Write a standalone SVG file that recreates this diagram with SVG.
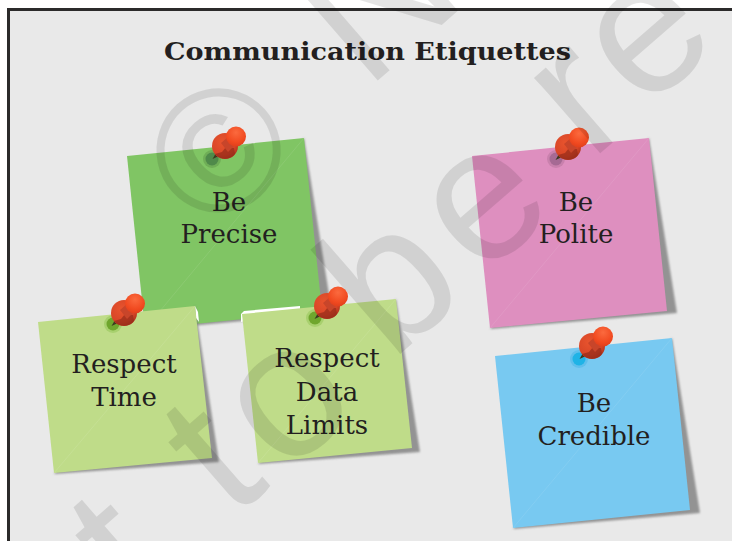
<svg xmlns="http://www.w3.org/2000/svg" xmlns:xlink="http://www.w3.org/1999/xlink" width="732" height="541" viewBox="0 0 732 541">
<style>
.lbl{font-family:"DejaVu Serif","Liberation Serif",serif;font-size:26px;fill:#231f20;text-anchor:middle}
.ttl{font-family:"DejaVu Serif","Liberation Serif",serif;font-size:25px;font-weight:bold;fill:#231f20}
.wm{font-family:"Liberation Sans",sans-serif;font-size:190px;fill:#000;fill-opacity:.1;text-anchor:middle}
.sh{fill:#777;fill-opacity:.75;filter:url(#blur)}
.fold{stroke:#fff;stroke-opacity:.09;stroke-width:1;fill:none}
</style>
<defs>
<filter id="blur" x="-10%" y="-10%" width="120%" height="120%"><feGaussianBlur stdDeviation="1.300"/></filter>
<radialGradient id="big" cx=".4" cy=".35" r=".75"><stop offset="0" stop-color="#e8542e"/><stop offset=".65" stop-color="#d84627"/><stop offset="1" stop-color="#a32e1b"/></radialGradient>
<radialGradient id="small" cx=".5" cy=".3" r=".7"><stop offset="0" stop-color="#fb6a3e"/><stop offset=".7" stop-color="#f14a20"/><stop offset="1" stop-color="#e0401c"/></radialGradient>
<g id="pin">
<path d="M-12.500 13L-9 7L-6 10Z" fill="#3c3a20"/>
<circle r="13" fill="url(#big)"/>
<path d="M-10 8A13 13 0 0 0 10 8L9 2L1 1L-3 6Z" fill="#8f2a18" opacity=".65"/>
<path d="M-4 -3L3 -9L11 -2L3 6Z" fill="#c8452a"/>
<circle cx="11" cy="-9.500" r="10" fill="url(#small)"/>
</g>
</defs>
<rect width="732" height="541" fill="#fff"/>
<rect x="8.500" y="9.500" width="800" height="600" fill="#e9e9e9" stroke="#2b2a2a" stroke-width="3"/>
<g id="connectors"/>
<g id="note-precise">
<path class="sh" d="M304 138L332 313L146 330Z"/>
<polygon points="127,156 304,138 322,311 145,329" fill="#80c564"/>
<path class="fold" d="M145 329L304 138"/>
<circle cx="212" cy="159" r="9" fill="#6fae57"/><circle cx="212" cy="159" r="6.500" fill="#4f8a4a"/>
<use xlink:href="#pin" href="#pin" x="225" y="146"/>
<text class="lbl" x="229" y="211">Be</text><text class="lbl" x="229" y="243">Precise</text>
</g>
<g id="note-polite">
<path class="sh" d="M649 138L677 313L490 329Z"/>
<polygon points="472,156 649,138 667,311 490,328" fill="#de8fbf"/>
<path class="fold" d="M490 328L649 138"/>
<circle cx="556" cy="159" r="9" fill="#c981ad"/><circle cx="556" cy="159" r="6.500" fill="#a66a94"/>
<use xlink:href="#pin" href="#pin" x="568" y="147"/>
<text class="lbl" x="576" y="211">Be</text><text class="lbl" x="576" y="243">Polite</text>
</g>
<g id="note-credible">
<path class="sh" d="M672 338L700 513L513 529Z"/>
<polygon points="495,356 672,338 690,510 513,528" fill="#78c9f1"/>
<path class="fold" d="M513 528L672 338"/>
<circle cx="579" cy="359" r="9" fill="#5fbfec"/><circle cx="579" cy="359" r="6.500" fill="#1fb3e6"/>
<use xlink:href="#pin" href="#pin" x="592" y="346"/>
<text class="lbl" x="594" y="412">Be</text><text class="lbl" x="594" y="445">Credible</text>
</g>
<g id="note-time">
<path class="sh" d="M195 306L219 462L54 474Z"/>
<polygon points="195,306 198,312 199,322 196,318" fill="#fff"/>
<polygon points="38,322 195,306 212,458 54,473" fill="#bfdc89"/>
<path class="fold" d="M54 473L195 306"/>
<circle cx="113" cy="324" r="9" fill="#a8d06e"/><circle cx="113" cy="324" r="6.500" fill="#6fa62d"/>
<use xlink:href="#pin" href="#pin" x="124" y="313"/>
<text class="lbl" x="124" y="373">Respect</text><text class="lbl" x="124" y="406">Time</text>
</g>
<g id="note-data">
<path class="sh" d="M396 299L420 452L258 464Z"/>
<polygon points="241,322 241,314 244,311 300,306 300,310" fill="#fff"/>
<polygon points="242,314 396,299 412,448 258,463" fill="#bfdc89"/>
<path class="fold" d="M258 463L396 299"/>
<circle cx="315" cy="318" r="9" fill="#a8d06e"/><circle cx="315" cy="318" r="6.500" fill="#6fa62d"/>
<use xlink:href="#pin" href="#pin" x="327" y="306"/>
<text class="lbl" x="327" y="367">Respect</text><text class="lbl" x="327" y="401">Data</text><text class="lbl" x="327" y="434">Limits</text>
</g>
<text id="title" class="ttl" x="164" y="60" textLength="407" lengthAdjust="spacingAndGlyphs">Communication Etiquettes</text>
<g id="watermark">
<text class="wm" style="font-size:176px" transform="translate(219 151) rotate(-42) translate(0 60)">©</text>
<text class="wm" style="text-anchor:start" transform="translate(384 75) rotate(-41) translate(-24 0)">N</text>
<text class="wm" transform="translate(94 521) rotate(-41) translate(0 99)">t</text>
<text class="wm" transform="translate(187 428) rotate(-41) translate(0 99)">t</text>
<text class="wm" transform="translate(291 404) rotate(-41) translate(0 50)">o</text>
<text class="wm" transform="translate(401 287) rotate(-41) translate(-4 50)">b</text>
<text class="wm" transform="translate(487 207) rotate(-41) translate(0 50)">e</text>
<text class="wm" transform="translate(576 108) rotate(-41) translate(7 50)">r</text>
<text class="wm" transform="translate(650 40) rotate(-41) translate(0 50)">e</text>
</g>
</svg>
